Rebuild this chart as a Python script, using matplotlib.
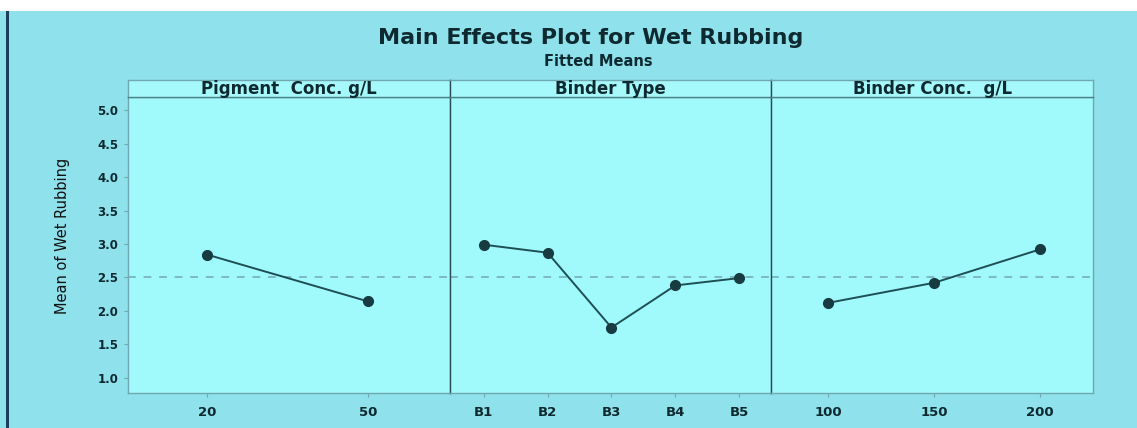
import matplotlib
matplotlib.use("Agg")
import matplotlib.pyplot as plt
from matplotlib.patches import Rectangle

# ---- data ----
title = "Main Effects Plot for Wet Rubbing"
subtitle = "Fitted Means"
ylabel = "Mean of Wet Rubbing"
factor_names = ["Pigment  Conc. g/L", "Binder Type", "Binder Conc.  g/L"]

pigment_levels = [20, 50]
pigment_means = [2.84, 2.14]

binder_types = ["B1", "B2", "B3", "B4", "B5"]
binder_means = [2.99, 2.87, 1.75, 2.38, 2.49]

binder_conc_levels = [100, 150, 200]
binder_conc_means = [2.12, 2.42, 2.92]

grand_mean = 2.5
y_ticks = [1.0, 1.5, 2.0, 2.5, 3.0, 3.5, 4.0, 4.5, 5.0]

# ---- style ----
W, H = 1137, 428
outer_bg = "#8FE1EC"
panel_bg = "#A0F9FB"
line_c = "#1E4F55"
mark_c = "#173B40"
ref_c = "#7DB9C2"
text_c = "#0E2A30"
frame_c = "#6FA8B0"

fig = plt.figure(figsize=(W / 100, H / 100), dpi=100)
fig.patch.set_facecolor(outer_bg)

# white strip on top and dark left border
fig.add_artist(Rectangle((0, 1 - 11 / H), 1, 11 / H, transform=fig.transFigure,
                         facecolor="white", edgecolor="none", zorder=0))
fig.add_artist(Rectangle((6 / W, 0), 3 / W, 1 - 11 / H, transform=fig.transFigure,
                         facecolor="#1B3F5C", edgecolor="none", zorder=0))

left_px, right_px = 128, 1093
top_px, bot_px = 97, 393
head_px = 80
pw = (right_px - left_px) / 3

xlims = [(5.2, 65.2), (0.47, 5.5), (73, 225)]
xs = [pigment_levels, list(range(1, 6)), binder_conc_levels]
ys = [pigment_means, binder_means, binder_conc_means]
xticklabels = [[str(v) for v in pigment_levels], binder_types,
               [str(v) for v in binder_conc_levels]]

for i in range(3):
    l = (left_px + i * pw) / W
    b = 1 - bot_px / H
    h = (bot_px - top_px) / H
    ax = fig.add_axes([l, b, pw / W, h])
    ax.set_facecolor(panel_bg)
    ax.set_xlim(*xlims[i])
    ax.set_ylim(0.77, 5.2)
    ax.axhline(grand_mean, color=ref_c, lw=1.4, ls=(0, (4, 4)), zorder=1)
    ax.plot(xs[i], ys[i], color=line_c, lw=1.4, zorder=2)
    ax.plot(xs[i], ys[i], "o", color=mark_c, ms=7, zorder=3)
    ax.set_xticks(xs[i])
    ax.set_xticklabels(xticklabels[i], fontsize=9.5, fontweight="bold",
                       color=text_c, family="DejaVu Sans")
    ax.tick_params(axis="x", length=3, color=frame_c, pad=6)
    if i == 0:
        ax.set_yticks(y_ticks)
        ax.set_yticklabels([f"{v:.1f}" for v in y_ticks], fontsize=8.5,
                           fontweight="bold", color=text_c, family="DejaVu Sans")
        ax.tick_params(axis="y", length=3, color=frame_c, pad=4)
    else:
        ax.set_yticks([])
    for side, sp in ax.spines.items():
        sp.set_color(frame_c)
        sp.set_linewidth(1.0)
    if i > 0:
        ax.spines["left"].set_color("#2A4A50")

    # header strip
    hax = fig.add_axes([l, 1 - top_px / H, pw / W, (top_px - head_px) / H])
    hax.set_facecolor("#A6F9FB")
    hax.set_xticks([])
    hax.set_yticks([])
    for side, sp in hax.spines.items():
        sp.set_color(frame_c)
        sp.set_linewidth(1.0)
    if i > 0:
        hax.spines["left"].set_color("#2A4A50")
    hax.spines["bottom"].set_color("#4E8088")
    hax.text(0.5, 0.5, factor_names[i], transform=hax.transAxes, ha="center",
             va="center", fontsize=12, fontweight="bold", color=text_c,
             family="DejaVu Sans")

fig.text(591 / W, 1 - 38 / H, title, ha="center", va="center", fontsize=16,
         fontweight="bold", color=text_c, family="DejaVu Sans")
fig.text(598 / W, 1 - 61 / H, subtitle, ha="center", va="center", fontsize=10.5,
         fontweight="bold", color=text_c, family="DejaVu Sans")
fig.text(62 / W, 1 - 236 / H, ylabel, ha="center", va="center", rotation=90,
         fontsize=10.5, color="#111111", family="DejaVu Sans")

fig.savefig("out.png", dpi=100, facecolor=fig.get_facecolor())
